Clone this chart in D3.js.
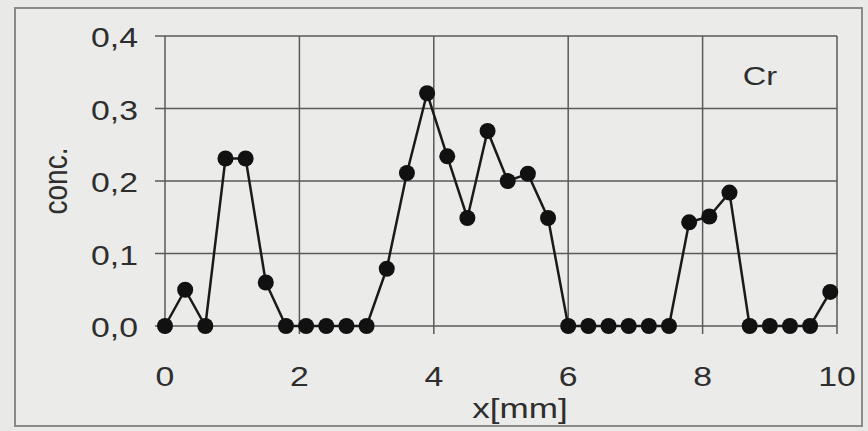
<!DOCTYPE html>
<html lang="en">
<head>
<meta charset="UTF-8">
<title>Cr</title>
<style>
    body { margin: 0; background: #e9e9e7; }
    svg text { font-family: "Liberation Sans", Arial, sans-serif; fill: #2e2e2e; }
</style>
</head>
<body>
<svg id="chart" width="868" height="431"></svg>
<script src="https://d3js.org/d3.v7.min.js"></script>
<script>
// data (x step 0.3 mm)
const xs = [0, 0.3, 0.6, 0.9, 1.2, 1.5, 1.8, 2.1, 2.4, 2.7, 3.0, 3.3, 3.6, 3.9, 4.2, 4.5, 4.8,
            5.1, 5.4, 5.7, 6.0, 6.3, 6.6, 6.9, 7.2, 7.5, 7.8, 8.1, 8.4, 8.7, 9.0, 9.3, 9.6, 9.9];
const conc = [0, 0.05, 0, 0.231, 0.231, 0.06, 0, 0, 0, 0, 0, 0.079, 0.211, 0.321, 0.234, 0.149, 0.269,
              0.2, 0.21, 0.149, 0, 0, 0, 0, 0, 0, 0.143, 0.151, 0.184, 0, 0, 0, 0, 0.047];
const xTicks = [0, 2, 4, 6, 8, 10];
const yTicks = [0, 0.1, 0.2, 0.3, 0.4];

const svg = d3.select("#chart");
const x = d3.scaleLinear().domain([0, 10]).range([165, 837]);
const y = d3.scaleLinear().domain([0, 0.4]).range([326, 36]);

// the scan is a bit wide, so text is stretched sideways
const sx = 1.25;

// outer frame
svg.append("rect")
    .attr("x", 15).attr("y", 8).attr("width", 847).attr("height", 418)
    .attr("fill", "#ebebe9").attr("stroke", "#8a8a88").attr("stroke-width", 2);

// grid
const grid = svg.append("g").attr("stroke", "#5a5a5a").attr("stroke-width", 1.5);
grid.selectAll(".gy").data(yTicks).join("line")
    .attr("x1", x(0) - 10).attr("x2", x(10))
    .attr("y1", d => y(d)).attr("y2", d => y(d));
grid.selectAll(".gx").data(xTicks).join("line")
    .attr("x1", d => x(d)).attr("x2", d => x(d))
    .attr("y1", y(0.4)).attr("y2", y(0) + 8);

const fmt = d => d3.format(".1f")(d).replace(".", ",");

svg.selectAll(".yl").data(yTicks).join("text")
    .attr("transform", d => `translate(138,${y(d) + 11}) scale(${sx},1)`)
    .attr("text-anchor", "end").attr("font-size", 27)
    .text(fmt);

svg.selectAll(".xl").data(xTicks).join("text")
    .attr("transform", d => `translate(${x(d)},386) scale(${sx},1)`)
    .attr("text-anchor", "middle").attr("font-size", 27)
    .text(d => d);

svg.append("text")
    .attr("transform", `translate(520,418) scale(1.3,1)`)
    .attr("text-anchor", "middle").attr("font-size", 27)
    .text("x[mm]");

svg.append("text")
    .attr("transform", "translate(67,181) rotate(-90) scale(1,1.2)")
    .attr("text-anchor", "middle").attr("font-size", 28)
    .text("conc.");

svg.append("text")
    .attr("transform", `translate(760,85) scale(${sx},1)`)
    .attr("text-anchor", "middle").attr("font-size", 26)
    .text("Cr");

// series
const pts = xs.map((d, i) => [d, conc[i]]);
svg.append("path")
    .datum(pts)
    .attr("fill", "none").attr("stroke", "#1a1a1a").attr("stroke-width", 2.5)
    .attr("d", d3.line().x(d => x(d[0])).y(d => y(d[1])));

svg.selectAll(".pt").data(pts).join("circle")
    .attr("cx", d => x(d[0])).attr("cy", d => y(d[1]))
    .attr("r", 8).attr("fill", "#111");
</script>
</body>
</html>
